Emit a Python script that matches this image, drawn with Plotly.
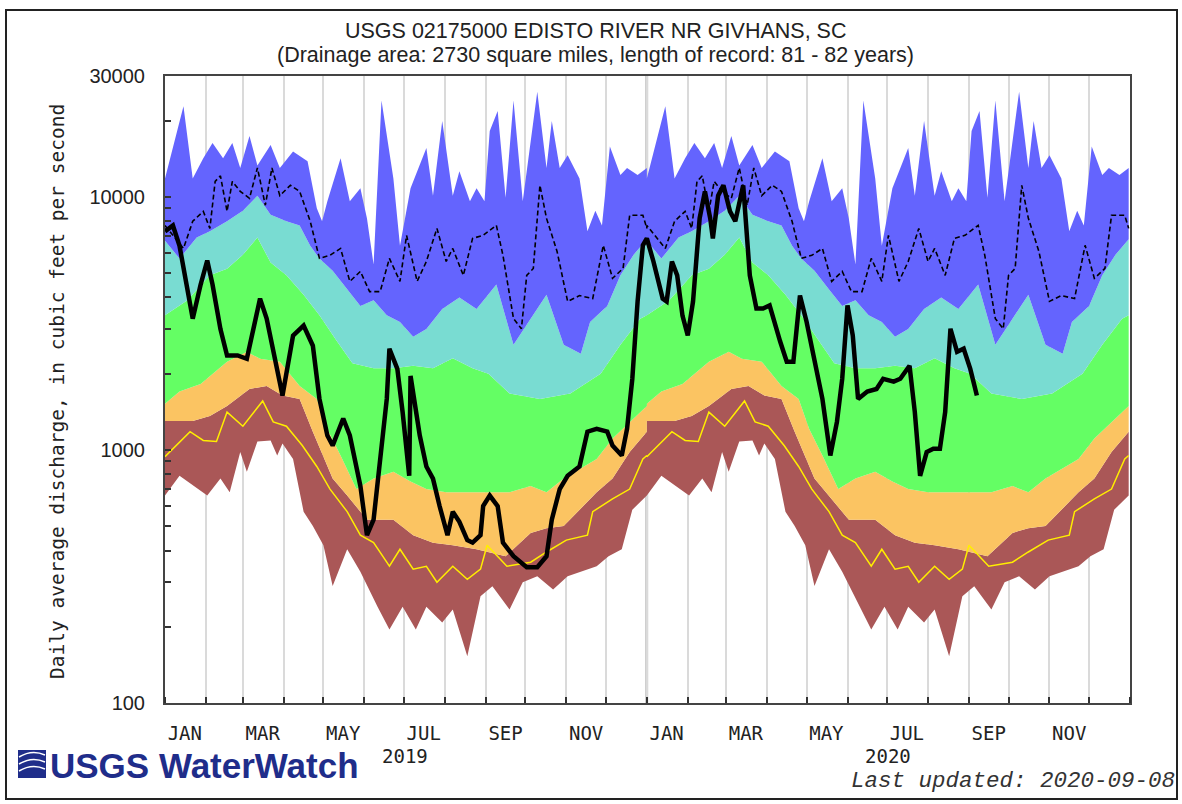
import pandas as pd
import plotly.graph_objects as go

# Daily flow statistics by day of year (day 0 = Jan 1), cfs.
# The same yearly statistics are drawn for 2019 and 2020.
MAX_DAY = [0, 14, 21, 29, 36, 44, 51, 57, 64, 70, 80, 87, 97, 108, 115, 119, 123, 133, 140, 148,
           153, 158, 164, 173, 178, 186, 198, 203, 210, 218, 223, 231, 236, 242, 246, 252, 258, 264,
           271, 282, 289, 293, 299, 305, 314, 320, 326, 331, 337, 345, 350, 358, 365]
MAX_CFS = [11800, 22800, 11800, 14200, 16300, 14200, 16300, 13000, 17400, 13300, 16000, 13000, 15100,
           13800, 9000, 8000, 9600, 14200, 9600, 10800, 8200, 5400, 24000, 11800, 6400, 10800, 15600,
           10100, 19900, 10100, 12600, 9600, 10800, 9600, 18200, 21800, 9900, 24000, 9600, 26000,
           13000, 19900, 13000, 14600, 11800, 7300, 8800, 7700, 15800, 12200, 13000, 12200, 13000]

P90_DAY = [0, 11, 24, 34, 47, 59, 70, 80, 92, 102, 110, 117, 127, 138, 148, 158, 168, 178, 188, 198,
           210, 223, 236, 251, 264, 277, 289, 302, 315, 322, 335, 345, 355, 365]
P90_CFS = [6700, 5700, 6900, 7300, 8000, 8800, 10100, 8500, 8000, 7700, 6400, 5700, 5100, 4300, 3700,
           3900, 3400, 3200, 2800, 3000, 3600, 4000, 3600, 4500, 2600, 3300, 4100, 2600, 2400, 3200,
           3700, 4900, 5900, 6800]

P75_DAY = [0, 17, 34, 47, 59, 70, 80, 92, 105, 117, 130, 142, 158, 173, 188, 203, 218, 233, 245, 261,
           284, 307, 330, 345, 360, 365]
P75_CFS = [3400, 3900, 4900, 5200, 5900, 6900, 5500, 4900, 4100, 3400, 2700, 2200, 2100, 2100, 2150,
           2100, 2300, 2100, 2000, 1670, 1590, 1670, 2000, 2600, 3300, 3400]

P25_DAY = [0, 11, 27, 47, 62, 72, 87, 102, 115, 123, 133, 145, 158, 173, 186, 198, 213, 223, 244, 261,
           277, 289, 302, 314, 327, 339, 352, 365]
P25_CFS = [1520, 1700, 1820, 2230, 2440, 2290, 2230, 1790, 1590, 1210, 950, 700, 770, 820, 750, 700,
           680, 680, 680, 680, 720, 680, 770, 840, 920, 1110, 1290, 1490]

P10_DAY = [0, 21, 34, 47, 64, 77, 89, 102, 112, 127, 138, 153, 173, 188, 203, 218, 236, 258, 277, 289,
           302, 314, 327, 339, 352, 365]
P10_CFS = [1300, 1300, 1360, 1490, 1740, 1790, 1640, 1590, 1180, 770, 660, 530, 530, 460, 430, 420,
           405, 380, 470, 490, 500, 580, 680, 770, 980, 1180]

MIN_DAY = [0, 11, 32, 42, 49, 57, 62, 70, 80, 85, 89, 97, 105, 112, 120, 127, 138, 148, 161, 170,
           180, 190, 198, 210, 218, 229, 239, 248, 261, 271, 282, 294, 305, 314, 327, 336, 346, 354, 365]
MIN_CFS = [660, 790, 660, 770, 680, 980, 820, 1080, 1090, 950, 1060, 920, 570, 500, 420, 290, 405, 330,
           240, 195, 240, 195, 240, 208, 234, 153, 264, 289, 234, 300, 317, 281, 317, 329, 347, 380,
           405, 580, 660]

YELLOW_DAY = [0, 19, 29, 39, 47, 59, 74, 82, 92, 104, 115, 125, 138, 148, 158, 170, 178, 188, 198, 206,
              218, 229, 239, 244, 259, 277, 289, 304, 320, 324, 339, 352, 362, 365]
YELLOW_CFS = [940, 1180, 1090, 1080, 1410, 1240, 1560, 1290, 1240, 1040, 860, 700, 570, 460, 430, 347,
              405, 338, 347, 300, 347, 308, 338, 420, 347, 360, 395, 440, 460, 570, 640, 700, 920, 950]

MEAN_DAY = [0, 14, 21, 29, 34, 38, 42, 47, 51, 57, 64, 70, 76, 81, 87, 95, 102, 110, 117, 125, 133,
            140, 148, 155, 163, 170, 178, 183, 191, 198, 206, 213, 218, 226, 233, 241, 251, 256, 264,
            270, 274, 279, 284, 289, 297, 305, 314, 324, 332, 339, 347, 352, 362, 365]
MEAN_CFS = [7700, 6250, 8000, 8760, 7500, 11500, 12100, 8760, 11500, 10500, 9860, 13000, 9260, 13000,
            10100, 11100, 10500, 8000, 5710, 5870, 6250, 4630, 5070, 4220, 4220, 5710, 4630, 7040, 4630,
            5550, 7500, 5550, 6250, 4890, 6850, 7040, 7710, 5870, 3300, 3010, 4890, 5210, 11100, 8220,
            6080, 3860, 4070, 3960, 6430, 4760, 5210, 8450, 8450, 7500]

# Observed daily flow, days since 2019-01-01 (record ends 2020-09-08)
OBS_DAY = [0, 6, 11, 17, 21, 27, 32, 36, 42, 47, 55, 62, 67, 72, 77, 83, 89, 97, 105, 112,
           117, 123, 127, 135, 140, 148, 153, 158, 163, 168, 170, 176, 180, 185, 186, 193, 198, 203, 208, 214,
           218, 223, 229, 233, 239, 241, 246, 252, 256, 264, 274, 282, 289, 293, 299, 305, 314, 320, 327, 335,
           339, 346, 350, 354, 358, 362, 365, 370, 377, 380, 384, 388, 392, 396, 400, 405, 409, 413, 415, 419,
           423, 428, 432, 436, 438, 443, 448, 453, 458, 466, 471, 476, 481, 486, 491, 498, 504, 509, 513, 517,
           521, 525, 532, 539, 544, 552, 557, 564, 568, 572, 577, 582, 587, 591, 595, 600, 605, 610, 615]
OBS_CFS = [7300, 7700, 6400, 4300, 3300, 4500, 5600, 4500, 3000, 2360, 2360, 2290, 3000, 3960, 3300, 2290,
           1640, 2830, 3100, 2580, 1590, 1140, 1040, 1330, 1140, 720, 460, 530, 900, 1590, 2510, 2090,
           1410, 790, 1960, 1140, 860, 770, 600, 460, 570, 520, 440, 430, 460, 600, 660, 600, 430, 380,
           344, 344, 380, 530, 700, 790, 860, 1180, 1210, 1180, 1040, 950, 1210, 1910, 3860, 6430, 6850,
           5550, 3960, 3860, 5550, 4890, 3390, 2830, 3860, 8220, 10500, 8220, 6850, 10100, 11100, 8760,
           8000, 10100, 11100, 4890, 3620, 3620, 3720, 2680, 2230, 2230, 4070, 3210, 2360, 1590, 950,
           1290, 1910, 3720, 2830, 1590, 1700, 1740, 1910, 1860, 1910, 2150, 1410, 790, 980, 1010, 1010,
           1410, 3010, 2440, 2510, 2090, 1640]

YEARS = [2019, 2020]
MONTH_LABELS = ["JAN", "MAR", "MAY", "JUL", "SEP", "NOV"]
Y_TICKS = [100, 200, 300, 400, 500, 600, 700, 800, 900, 1000, 2000, 3000, 4000, 5000, 6000, 7000,
           8000, 9000, 10000, 20000, 30000]
Y_LABELED = [100, 1000, 10000, 30000]

BLUE, CYAN, GREEN, ORANGE, BROWN = "#6464fe", "#79dcd2", "#64fe64", "#fbc462", "#aa5757"

# plot-area box in page pixels
L, R, T, B = 165, 1130, 76, 703
W, H = 1182, 804


def px_x(p):
    return (p - L) / (R - L)


def px_y(p):
    return (B - p) / (B - T)


def tile_years(days, values):
    xs, ys = [], []
    for yr in YEARS:
        base = pd.Timestamp(f"{yr}-01-01")
        xs += [base + pd.Timedelta(days=d) for d in days]
        ys += list(values)
    return xs, ys


fig = go.Figure()

bands = [
    (MIN_DAY, MIN_CFS, None),
    (P10_DAY, P10_CFS, BROWN),
    (P25_DAY, P25_CFS, ORANGE),
    (P75_DAY, P75_CFS, GREEN),
    (P90_DAY, P90_CFS, CYAN),
    (MAX_DAY, MAX_CFS, BLUE),
]
for days, vals, color in bands:
    x, y = tile_years(days, vals)
    fig.add_trace(go.Scatter(
        x=x, y=y, mode="lines", line=dict(width=0, color=color or BROWN),
        fill="none" if color is None else "tonexty", fillcolor=color,
        hoverinfo="skip", showlegend=False))

x, y = tile_years(YELLOW_DAY, YELLOW_CFS)
fig.add_trace(go.Scatter(x=x, y=y, mode="lines", line=dict(color="#ffee00", width=1.5),
                         hoverinfo="skip", showlegend=False))

x, y = tile_years(MEAN_DAY, MEAN_CFS)
fig.add_trace(go.Scatter(x=x, y=y, mode="lines", line=dict(color="black", width=1.6, dash="5px,3px"),
                         hoverinfo="skip", showlegend=False))

start = pd.Timestamp("2019-01-01")
obs_x = [start + pd.Timedelta(days=d) for d in OBS_DAY]
fig.add_trace(go.Scatter(x=obs_x, y=OBS_CFS, mode="lines", line=dict(color="black", width=4.5),
                         hoverinfo="skip", showlegend=False))

mono = "DejaVu Sans Mono, monospace"
month_starts = list(pd.date_range("2019-01-01", "2021-01-01", freq="MS"))
label_dates = [pd.Timestamp(f"{yr}-{2 * i + 1:02d}-16") for yr in YEARS for i in range(len(MONTH_LABELS))]
fig.update_xaxes(
    range=["2019-01-01", "2021-01-01"],
    tickmode="array", tickvals=label_dates, ticktext=MONTH_LABELS * len(YEARS),
    ticks="", showgrid=False, ticklabelstandoff=12,
    tickfont=dict(family=mono, size=19, color="#222"),
    minor=dict(tickmode="array", tickvals=month_starts, ticks="inside", ticklen=6, tickwidth=1.5,
               tickcolor="#333", showgrid=True, gridcolor="#dadada", gridwidth=2),
    showline=True, linecolor="#444", linewidth=2, mirror=True, zeroline=False,
)
fig.update_yaxes(
    type="log", range=[2, 4.4771],
    tickvals=Y_TICKS, ticktext=[str(v) if v in Y_LABELED else "" for v in Y_TICKS],
    ticks="inside", ticklen=6, tickwidth=1.5, tickcolor="#333", ticklabelstandoff=14,
    tickfont=dict(family="Liberation Sans, Arial", size=20, color="#222"),
    showgrid=False, showline=True, linecolor="#444", linewidth=2, mirror=True, zeroline=False,
)

# divider between the two years
fig.add_shape(type="line", xref="x", yref="paper", x0="2020-01-01", x1="2020-01-01", y0=0, y1=1,
              line=dict(color="#8a8a8a", width=2.5), layer="below")

ann = []
for yr in YEARS:
    ann.append(dict(x=pd.Timestamp(f"{yr}-07-02"), y=px_y(756), xref="x", text=str(yr),
                    font=dict(family=mono, size=19, color="#222")))

ann += [
    dict(x=px_x(595), y=px_y(31), text="USGS 02175000 EDISTO RIVER NR GIVHANS, SC",
         font=dict(family="Liberation Sans, Arial", size=21.5, color="#222")),
    dict(x=px_x(595), y=px_y(55),
         text="(Drainage area: 2730 square miles, length of record: 81 - 82 years)",
         font=dict(family="Liberation Sans, Arial", size=21.5, color="#222")),
    dict(x=px_x(57), y=px_y(392), text="Daily average discharge, in cubic feet per second",
         textangle=-90, font=dict(family=mono, size=19.5, color="#222")),
    dict(x=px_x(1177), y=px_y(781), xanchor="right", text="Last updated: 2020-09-08",
         font=dict(family="Liberation Mono, Courier New, monospace", size=22.5, color="#333",
                   style="italic")),
    dict(x=px_x(48), y=px_y(765), xanchor="left", text="<b>USGS WaterWatch</b>",
         font=dict(family="Liberation Sans, Arial", size=35, color="#1f2d8a")),
]
for a in ann:
    a.setdefault("xref", "paper")
    a.setdefault("yref", "paper")
    a.setdefault("xanchor", "center")
    a.setdefault("yanchor", "middle")
    a.setdefault("showarrow", False)
fig.update_layout(annotations=ann)

# logo mark and outer frame
fig.add_shape(type="rect", xref="paper", yref="paper", x0=px_x(18), x1=px_x(46), y0=px_y(778),
              y1=px_y(750), fillcolor="#1f2d8a", line=dict(width=0))
for off in (0, 7, 14):
    p0 = (px_x(19), px_y(771 - off))
    pc = (px_x(32), px_y(763 - off))
    p1 = (px_x(45), px_y(769 - off))
    fig.add_shape(type="path", xref="paper", yref="paper",
                  path=f"M {p0[0]},{p0[1]} Q {pc[0]},{pc[1]} {p1[0]},{p1[1]}",
                  line=dict(color="white", width=1.5))
fig.add_shape(type="rect", xref="paper", yref="paper", x0=px_x(6), x1=px_x(1177), y0=px_y(799),
              y1=px_y(10), line=dict(color="#222", width=2), fillcolor="rgba(0,0,0,0)")

fig.update_layout(
    width=W, height=H,
    margin=dict(l=L, r=W - R, t=T, b=H - B),
    paper_bgcolor="white", plot_bgcolor="white",
    showlegend=False, hovermode=False,
)

# the page body gets no default margin so the figure sits at the window's corner
fig.write_html("out.html", config={"displayModeBar": False},
               post_script="document.body.style.margin='0';")
